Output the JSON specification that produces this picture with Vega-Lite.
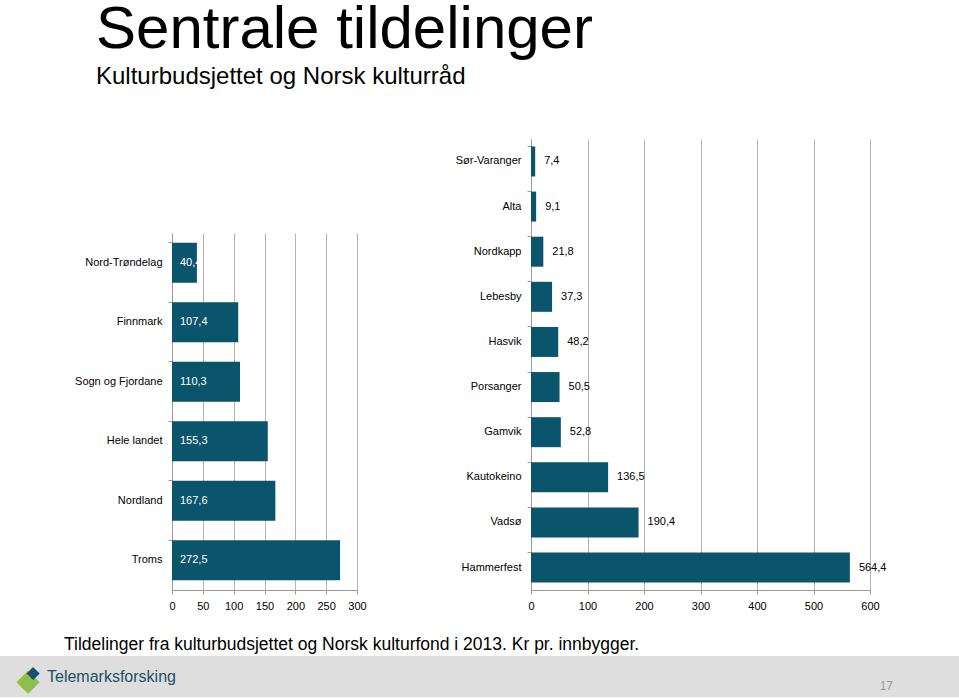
{
  "$schema": "https://vega.github.io/schema/vega-lite/v6.json",
  "padding": 0,
  "background": "white",
  "config": {
    "font": "Liberation Sans",
    "view": {"stroke": null},
    "locale": {"number": {"decimal": ",", "thousands": " ", "grouping": [3], "currency": ["", ""]}},
    "axis": {
      "labelFont": "Liberation Sans",
      "labelFontSize": 11,
      "labelColor": "#000000",
      "domainColor": "#9a9a9a",
      "tickColor": "#9a9a9a",
      "tickSize": 4,
      "labelPadding": 6,
      "gridColor": "#b4b4b4",
      "gridOpacity": 1,
      "labelOverlap": false,
      "labelFlush": false,
      "title": null
    }
  },
  "title": {
    "text": "Sentrale tildelinger",
    "subtitle": "Kulturbudsjettet og Norsk kulturråd",
    "anchor": "start",
    "font": "Liberation Sans",
    "fontSize": 60,
    "fontWeight": "normal",
    "color": "#000000",
    "subtitleFont": "Liberation Sans",
    "subtitleFontSize": 24,
    "subtitleColor": "#000000",
    "subtitlePadding": 4,
    "offset": 49,
    "dx": 96
  },
  "spacing": 2,
  "vconcat": [
    {
      "spacing": 64,
      "title": {
        "text": "Tildelinger fra kulturbudsjettet og Norsk kulturfond i 2013. Kr pr. innbygger.",
        "orient": "bottom",
        "anchor": "start",
        "font": "Liberation Sans",
        "fontSize": 17.5,
        "fontWeight": "normal",
        "color": "#000000",
        "offset": 25,
        "dx": 64
      },
      "hconcat": [
        {
          "width": 1,
          "height": 1,
          "data": {"values": []},
          "mark": "text",
          "encoding": {}
        },
        {
          "spacing": 0,
          "vconcat": [
            {
              "width": 185,
              "height": 94,
              "data": {"values": []},
              "mark": "text",
              "encoding": {}
            },
            {
              "width": 185,
              "height": 357,
              "data": {
                "values": [
                  {"region": "Nord-Trøndelag", "value": 40.4},
                  {"region": "Finnmark", "value": 107.4},
                  {"region": "Sogn og Fjordane", "value": 110.3},
                  {"region": "Hele landet", "value": 155.3},
                  {"region": "Nordland", "value": 167.6},
                  {"region": "Troms", "value": 272.5}
                ]
              },
              "encoding": {
                "y": {
                  "field": "region",
                  "type": "nominal",
                  "sort": null,
                  "scale": {"paddingInner": 0.33, "paddingOuter": 0.165},
                  "axis": {"bandPosition": 0, "minExtent": 107, "maxExtent": 107, "grid": false}
                }
              },
              "layer": [
                {
                  "mark": {"type": "bar", "color": "#0a546c"},
                  "encoding": {
                    "x": {
                      "field": "value",
                      "type": "quantitative",
                      "scale": {"domain": [0, 300], "nice": false},
                      "axis": {"values": [0, 50, 100, 150, 200, 250, 300], "grid": true, "labelOverlap": false, "labelFlush": false}
                    }
                  }
                },
                {
                  "mark": {"type": "text", "align": "left", "baseline": "middle", "dx": 8, "color": "white", "fontSize": 11, "font": "Liberation Sans"},
                  "encoding": {
                    "x": {
                      "datum": 0,
                      "type": "quantitative",
                      "scale": {"domain": [0, 300], "nice": false},
                      "axis": {"values": [0, 50, 100, 150, 200, 250, 300], "grid": true, "labelOverlap": false, "labelFlush": false}
                    },
                    "text": {"field": "value", "type": "quantitative", "format": ".1f"}
                  }
                }
              ]
            }
          ]
        },
        {
          "width": 339,
          "height": 451,
          "data": {
            "values": [
              {"kommune": "Sør-Varanger", "value": 7.4},
              {"kommune": "Alta", "value": 9.1},
              {"kommune": "Nordkapp", "value": 21.8},
              {"kommune": "Lebesby", "value": 37.3},
              {"kommune": "Hasvik", "value": 48.2},
              {"kommune": "Porsanger", "value": 50.5},
              {"kommune": "Gamvik", "value": 52.8},
              {"kommune": "Kautokeino", "value": 136.5},
              {"kommune": "Vadsø", "value": 190.4},
              {"kommune": "Hammerfest", "value": 564.4}
            ]
          },
          "encoding": {
            "y": {
              "field": "kommune",
              "type": "nominal",
              "sort": null,
              "scale": {"paddingInner": 0.335, "paddingOuter": 0.165},
              "axis": {"bandPosition": 0, "minExtent": 100, "maxExtent": 100, "grid": false}
            },
            "x": {
              "field": "value",
              "type": "quantitative",
              "scale": {"domain": [0, 600], "nice": false},
              "axis": {"values": [0, 100, 200, 300, 400, 500, 600], "grid": true, "labelOverlap": false, "labelFlush": false}
            }
          },
          "layer": [
            {
              "mark": {"type": "bar", "color": "#0a546c"}
            },
            {
              "mark": {"type": "text", "align": "left", "baseline": "middle", "dx": 9, "color": "#000000", "fontSize": 11, "font": "Liberation Sans"},
              "encoding": {
                "text": {"field": "value", "type": "quantitative", "format": ".1f"}
              }
            }
          ]
        }
      ]
    },
    {
      "width": 959,
      "height": 41,
      "view": {"fill": "#dedede", "stroke": null},
      "data": {
        "values": [
          {"label": "Telemarksforsking", "side": "venstre"},
          {"label": "17", "side": "høyre"}
        ]
      },
      "encoding": {
        "x": {
          "field": "side",
          "type": "nominal",
          "scale": {"type": "point", "domain": ["venstre", "høyre"], "padding": 0},
          "axis": null
        }
      },
      "layer": [
        {
          "transform": [{"filter": "datum.side === 'venstre'"}],
          "mark": {"type": "text", "align": "center", "baseline": "middle", "dx": 28, "dy": 4, "fontSize": 30, "color": "#8cc04a", "font": "DejaVu Sans"},
          "encoding": {"text": {"value": "◆"}}
        },
        {
          "transform": [{"filter": "datum.side === 'venstre'"}],
          "mark": {"type": "text", "align": "center", "baseline": "middle", "dx": 33, "dy": -4, "fontSize": 17, "color": "#1d4f6b", "font": "DejaVu Sans"},
          "encoding": {"text": {"value": "◆"}}
        },
        {
          "transform": [{"filter": "datum.side === 'venstre'"}],
          "mark": {"type": "text", "align": "left", "baseline": "middle", "dx": 47, "fontSize": 16, "color": "#1d4f66", "font": "Liberation Sans"},
          "encoding": {"text": {"field": "label"}}
        },
        {
          "transform": [{"filter": "datum.side === 'høyre'"}],
          "mark": {"type": "text", "align": "right", "baseline": "middle", "dx": -66, "dy": 9, "fontSize": 12, "color": "#9a9a9a", "font": "Liberation Sans"},
          "encoding": {"text": {"field": "label"}}
        }
      ]
    }
  ]
}
